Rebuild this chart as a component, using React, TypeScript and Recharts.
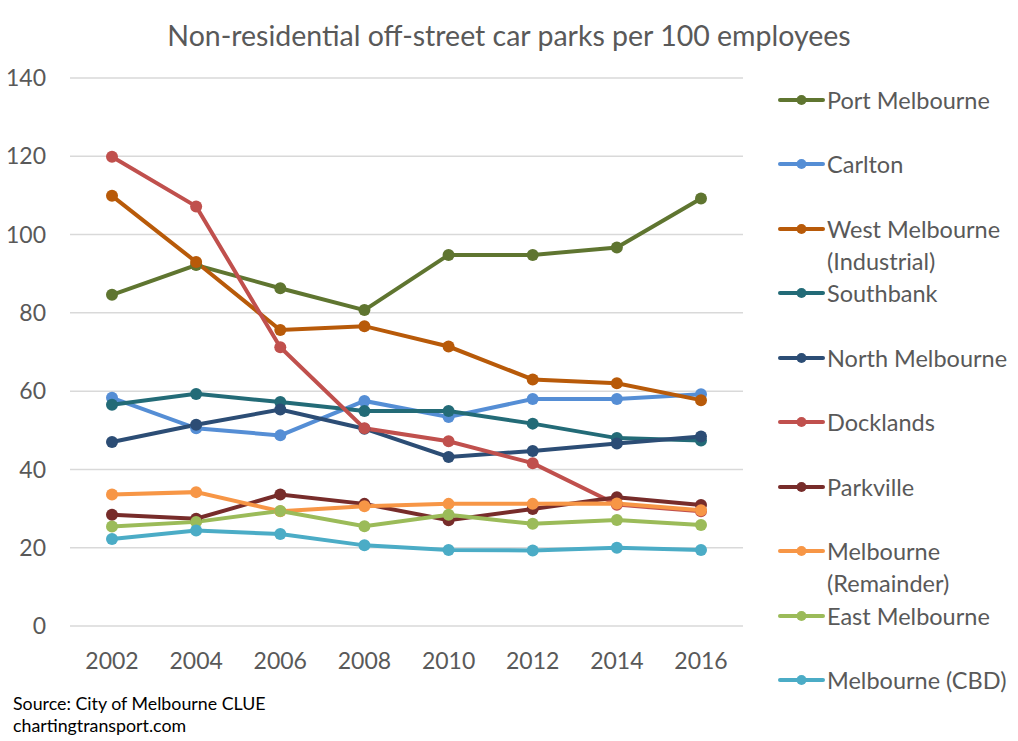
import React from 'react';
import { LineChart, Line, XAxis, YAxis, CartesianGrid } from 'recharts';

const years = ['2002', '2004', '2006', '2008', '2010', '2012', '2014', '2016'];
const yTicks = [0, 20, 40, 60, 80, 100, 120, 140];

const portMelbourne = [84.6, 92.2, 86.3, 80.7, 94.8, 94.8, 96.7, 109.2];
const carlton = [58.3, 50.5, 48.7, 57.5, 53.4, 58.0, 58.0, 59.2];
const westMelbourne = [109.9, 93.0, 75.6, 76.6, 71.4, 63.0, 62.0, 57.7];
const southbank = [56.5, 59.3, 57.2, 54.9, 54.9, 51.7, 48.0, 47.4];
const northMelbourne = [47.0, 51.4, 55.3, 50.4, 43.2, 44.7, 46.6, 48.4];
const docklands = [119.9, 107.2, 71.2, 50.5, 47.2, 41.6, 31.0, 29.3];
const parkville = [28.4, 27.4, 33.6, 31.2, 27.0, 29.9, 32.9, 30.9];
const melbourneRemainder = [33.6, 34.2, 29.3, 30.6, 31.2, 31.2, 31.3, 29.6];
const eastMelbourne = [25.4, 26.6, 29.4, 25.5, 28.4, 26.1, 27.1, 25.8];
const melbourneCBD = [22.2, 24.4, 23.5, 20.6, 19.4, 19.3, 20.0, 19.4];

const seriesNames = [
  'Port Melbourne',
  'Carlton',
  'West Melbourne (Industrial)',
  'Southbank',
  'North Melbourne',
  'Docklands',
  'Parkville',
  'Melbourne (Remainder)',
  'East Melbourne',
  'Melbourne (CBD)',
];
const legendLines = [
  ['Port Melbourne'],
  ['Carlton'],
  ['West Melbourne', '(Industrial)'],
  ['Southbank'],
  ['North Melbourne'],
  ['Docklands'],
  ['Parkville'],
  ['Melbourne', '(Remainder)'],
  ['East Melbourne'],
  ['Melbourne (CBD)'],
];
const seriesValues = [
  portMelbourne,
  carlton,
  westMelbourne,
  southbank,
  northMelbourne,
  docklands,
  parkville,
  melbourneRemainder,
  eastMelbourne,
  melbourneCBD,
];
const colors = [
  '#5f7530',
  '#558ed5',
  '#b85a09',
  '#236b77',
  '#2c4d75',
  '#c0504d',
  '#772c2a',
  '#f79646',
  '#9bbb59',
  '#4bacc6',
];

const data = years.map((y, i) => {
  const row: Record<string, number | string> = { year: y };
  seriesNames.forEach((n, s) => {
    row[n] = seriesValues[s][i];
  });
  return row;
});

const FONT = 'Lato, "Open Sans", sans-serif';
const GREY = '#595959';

export default function App() {
  return (
    <div style={{ position: 'absolute', left: 0, top: 0, width: 1018, height: 741, background: '#fff', fontFamily: FONT }}>
      <div
        style={{
          position: 'absolute',
          left: 0,
          width: 1018,
          top: 15,
          textAlign: 'center',
          fontSize: 28.5,
          lineHeight: '40px',
          color: GREY,
        }}
      >
        Non-residential off-street car parks per 100 employees
      </div>
      <LineChart width={1018} height={741} data={data} margin={{ top: 78, right: 275, bottom: 55, left: 0 }}>
        <CartesianGrid vertical={false} stroke="#d9d9d9" strokeWidth={1.5} />
        <XAxis
          dataKey="year"
          height={60}
          padding={{ left: 42, right: 42 }}
          axisLine={false}
          tickLine={false}
          tickSize={0}
          tickMargin={27}
          tick={{ fill: GREY, fontSize: 23, fontFamily: FONT }}
          interval={0}
        />
        <YAxis
          width={70}
          domain={[0, 140]}
          ticks={yTicks}
          axisLine={false}
          tickLine={false}
          tickSize={0}
          tickMargin={24}
          tick={{ fill: GREY, fontSize: 23, fontFamily: FONT }}
          interval={0}
        />
        {seriesNames.map((n, i) => (
          <Line
            key={n}
            type="linear"
            dataKey={n}
            stroke={colors[i]}
            strokeWidth={4}
            dot={{ r: 6, fill: colors[i], stroke: colors[i], strokeWidth: 0 }}
            activeDot={false}
            isAnimationActive={false}
          />
        ))}
      </LineChart>
      <div style={{ position: 'absolute', left: 778, top: 84, width: 240, height: 630 }}>
        {seriesNames.map((n, i) => (
          <div
            key={n}
            style={{ position: 'absolute', left: 0, top: i * 64.45, display: 'flex', alignItems: 'flex-start' }}
          >
            <svg width={49} height={32} style={{ flex: 'none' }}>
              <line x1={2} x2={45} y1={16} y2={16} stroke={colors[i]} strokeWidth={4} strokeLinecap="round" />
              <circle cx={23.5} cy={16} r={5} fill={colors[i]} />
            </svg>
            <div style={{ fontSize: 23.5, lineHeight: '32px', color: GREY, whiteSpace: 'nowrap' }}>
              {legendLines[i].map((t) => (
                <div key={t}>{t}</div>
              ))}
            </div>
          </div>
        ))}
      </div>
      <div
        style={{
          position: 'absolute',
          left: 13,
          top: 692,
          fontSize: 17.8,
          lineHeight: '22px',
          color: '#000',
        }}
      >
        <div>Source: City of Melbourne CLUE</div>
        <div>chartingtransport.com</div>
      </div>
    </div>
  );
}
